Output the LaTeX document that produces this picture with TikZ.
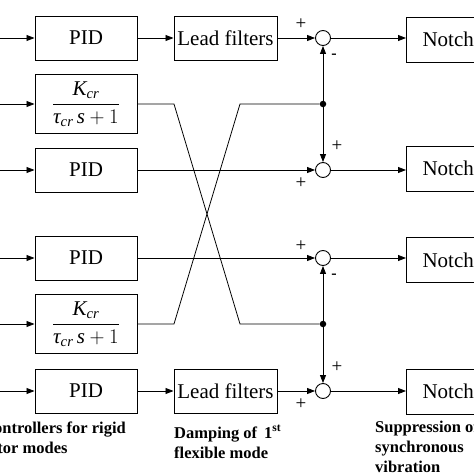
\documentclass[tikz,border=0pt]{standalone}
\usepackage{amsmath}
\usepackage{fontspec}
\setmainfont{Liberation Serif}
\usepackage{tikz}
\usetikzlibrary{arrows.meta,positioning}
\tikzset{
    blk/.style={draw,line width=1pt,minimum width=102pt,minimum height=44pt,inner sep=0pt,font=\fontsize{21}{24}\selectfont},
    sumc/.style={draw,circle,line width=0.9pt,minimum size=15pt,inner sep=0pt},
    dotc/.style={fill,circle,minimum size=6.5pt,inner sep=0pt},
    sig/.style={line width=0.8pt,-{Triangle[length=8pt,width=6pt]}},
    wire/.style={line width=0.8pt},
    sgn/.style={font=\fontsize{19}{19}\selectfont,inner sep=0pt},
    neg/.style={font=\bfseries\fontsize{16}{16}\selectfont,inner sep=0pt},
    capt/.style={font=\bfseries\fontsize{16.5}{20}\selectfont,align=left,inner sep=0pt,anchor=base west}
}

\begin{document}
\begin{tikzpicture}[x=1pt,y=-1pt]
\useasboundingbox (0,0) rectangle (474,474);
\clip (0,0) rectangle (474,474);
\foreach \i/\y in {1/38,3/170,4/258,6/391} {
    \node[blk] (ctl\i) at (86,\y) {PID};
}
\foreach \i/\y in {2/104,5/324} {
    \node[blk,minimum height=59pt] (ctl\i) at (86,\y) {$\dfrac{\textit{K}_{\textit{cr}}}{\textit{τ}_{\textit{cr}}\,\textit{s}+1}$};
}
\foreach \i/\y in {1/38,6/391} {
    \node[blk,minimum width=103pt] (lead\i) at (225.5,\y) {Lead filters};
}
\foreach \i/\y in {1/38,3/170,4/258,6/391} {
    \node[sumc] (sum\i) at (323,\y) {};
}
\node[dotc] (dot2) at (323,104) {};
\node[dotc] (dot5) at (323,324) {};
\foreach \i/\y in {1/39.5,3/168.5,4/260,6/391.5} {
    \node[blk,anchor=west,minimum height=45pt,inner xsep=16pt] (notch\i) at (406,\y) {Notch filters};
}
% inputs
\foreach \i/\y in {1/38,2/104,3/170,4/258,5/324,6/391} {
    \coordinate (in\i) at (0,\y);
    \draw[sig] (in\i) -- (ctl\i.west);
}
% cross coupling
\coordinate (bend2a) at (174,104);
\coordinate (bend2b) at (240,104);
\coordinate (bend5a) at (174,324);
\coordinate (bend5b) at (240,324);
\draw[wire] (ctl2.east) -- (bend2a) -- (bend5b) -- (dot5);
\draw[wire] (ctl5.east) -- (bend5a) -- (bend2b) -- (dot2);
\draw[sig] (dot2) -- (sum1);
\draw[sig] (dot2) -- (sum3);
\draw[sig] (dot5) -- (sum4);
\draw[sig] (dot5) -- (sum6);
% forward paths
\draw[sig] (ctl1) -- (lead1);
\draw[sig] (lead1) -- (sum1);
\draw[sig] (ctl6) -- (lead6);
\draw[sig] (lead6) -- (sum6);
\draw[sig] (ctl3) -- (sum3);
\draw[sig] (ctl4) -- (sum4);
\foreach \i in {1,3,4,6} {
    \draw[sig] (sum\i) -- (sum\i -| notch\i.west);
}
% signs
\node[sgn] (sgn1a) at (301,24) {+};
\node[neg] (sgn1b) at (334,56) {-};
\node[sgn] (sgn3a) at (337,146) {+};
\node[sgn] (sgn3b) at (301,183) {+};
\node[sgn] (sgn4a) at (301,246) {+};
\node[neg] (sgn4b) at (334,276) {-};
\node[sgn] (sgn6a) at (337,367) {+};
\node[sgn] (sgn6b) at (301,404) {+};
% captions
\node[capt] (cap1) at (-18,453) {Controllers for rigid\\rotor modes};
\node[capt] (cap2) at (174,458) {Damping of \,1\textsuperscript{st}\\flexible mode};
\node[capt] (cap3) at (375,472) {Suppression of\\synchronous\\vibration};
\end{tikzpicture}
\end{document}
